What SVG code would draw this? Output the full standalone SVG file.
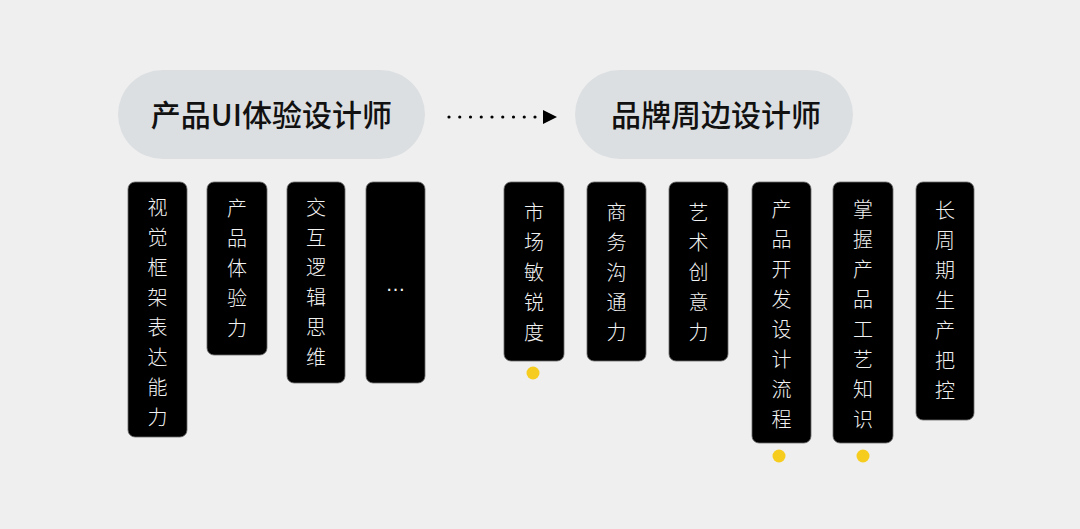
<svg xmlns="http://www.w3.org/2000/svg" width="1080" height="529" viewBox="0 0 1080 529">
<defs>
<style>
.pill{fill:#dcdfe1}
.title{font-family:"Noto Sans CJK SC","Noto Sans",sans-serif;font-size:30px;font-weight:500;fill:#111;text-anchor:middle}
.box{fill:#000;stroke:#6a6a6a;stroke-width:0.8}
.lbl{font-family:"Noto Sans CJK SC","Noto Sans",sans-serif;font-size:20px;font-weight:300;fill:#f2f2f2;text-anchor:middle}
.ell{font-family:"Liberation Sans",sans-serif;font-size:20px;fill:#f2f2f2;text-anchor:middle}
.dot{fill:#f6cd1e}
</style>
<marker id="ah" markerUnits="userSpaceOnUse" markerWidth="14" markerHeight="14" refX="0" refY="7" orient="auto">
<path d="M0,0 L14,7 L0,14 z" fill="#000"/>
</marker>
</defs>
<rect width="1080" height="529" fill="#efefef"/>

<g id="role-ui">
<rect class="pill" x="118" y="70" width="307" height="89" rx="44.5"/>
<text class="title" x="271.5" y="126">产品UI体验设计师</text>
</g>
<g id="role-brand">
<rect class="pill" x="575" y="70" width="278" height="89" rx="44.5"/>
<text class="title" x="716" y="126">品牌周边设计师</text>
</g>

<g id="connectors">
<line x1="449" y1="117" x2="543" y2="117" stroke="#000" stroke-width="3.2" stroke-linecap="round" stroke-dasharray="0 10.75" marker-end="url(#ah)"/>
</g>

<g id="skill-1">
<rect class="box" x="128" y="182" width="59" height="255" rx="7"/>
<text class="lbl"><tspan x="157.5" y="214.5">视</tspan><tspan x="157.5" y="244.5">觉</tspan><tspan x="157.5" y="274.5">框</tspan><tspan x="157.5" y="304.5">架</tspan><tspan x="157.5" y="334.5">表</tspan><tspan x="157.5" y="364.5">达</tspan><tspan x="157.5" y="394.5">能</tspan><tspan x="157.5" y="424.5">力</tspan></text>
</g>
<g id="skill-2">
<rect class="box" x="207" y="182" width="60" height="173" rx="7"/>
<text class="lbl"><tspan x="237" y="215.5">产</tspan><tspan x="237" y="245.5">品</tspan><tspan x="237" y="275.5">体</tspan><tspan x="237" y="305.5">验</tspan><tspan x="237" y="335.5">力</tspan></text>
</g>
<g id="skill-3">
<rect class="box" x="287" y="182" width="58" height="201" rx="7"/>
<text class="lbl"><tspan x="316" y="214.5">交</tspan><tspan x="316" y="244.5">互</tspan><tspan x="316" y="274.5">逻</tspan><tspan x="316" y="304.5">辑</tspan><tspan x="316" y="334.5">思</tspan><tspan x="316" y="364.5">维</tspan></text>
</g>
<g id="skill-4">
<rect class="box" x="366" y="182" width="59" height="201" rx="7"/>
<text class="ell" x="395.5" y="291">…</text>
</g>

<g id="skill-5">
<rect class="box" x="504" y="182" width="60" height="179" rx="7"/>
<text class="lbl"><tspan x="534" y="219.5">市</tspan><tspan x="534" y="249.5">场</tspan><tspan x="534" y="279.5">敏</tspan><tspan x="534" y="309.5">锐</tspan><tspan x="534" y="339.5">度</tspan></text>
<circle class="dot" cx="533" cy="373" r="6.5"/>
</g>
<g id="skill-6">
<rect class="box" x="587" y="182" width="59" height="179" rx="7"/>
<text class="lbl"><tspan x="616.5" y="219.5">商</tspan><tspan x="616.5" y="249.5">务</tspan><tspan x="616.5" y="279.5">沟</tspan><tspan x="616.5" y="309.5">通</tspan><tspan x="616.5" y="339.5">力</tspan></text>
</g>
<g id="skill-7">
<rect class="box" x="669" y="182" width="59" height="179" rx="7"/>
<text class="lbl"><tspan x="698.5" y="219.5">艺</tspan><tspan x="698.5" y="249.5">术</tspan><tspan x="698.5" y="279.5">创</tspan><tspan x="698.5" y="309.5">意</tspan><tspan x="698.5" y="339.5">力</tspan></text>
</g>
<g id="skill-8">
<rect class="box" x="752" y="182" width="59" height="261" rx="7"/>
<text class="lbl"><tspan x="781.5" y="216.5">产</tspan><tspan x="781.5" y="246.5">品</tspan><tspan x="781.5" y="276.5">开</tspan><tspan x="781.5" y="306.5">发</tspan><tspan x="781.5" y="336.5">设</tspan><tspan x="781.5" y="366.5">计</tspan><tspan x="781.5" y="396.5">流</tspan><tspan x="781.5" y="426.5">程</tspan></text>
<circle class="dot" cx="779" cy="456" r="6.5"/>
</g>
<g id="skill-9">
<rect class="box" x="833" y="182" width="60" height="261" rx="7"/>
<text class="lbl"><tspan x="863" y="216.5">掌</tspan><tspan x="863" y="246.5">握</tspan><tspan x="863" y="276.5">产</tspan><tspan x="863" y="306.5">品</tspan><tspan x="863" y="336.5">工</tspan><tspan x="863" y="366.5">艺</tspan><tspan x="863" y="396.5">知</tspan><tspan x="863" y="426.5">识</tspan></text>
<circle class="dot" cx="863" cy="456" r="6.5"/>
</g>
<g id="skill-10">
<rect class="box" x="916" y="182" width="58" height="238" rx="7"/>
<text class="lbl"><tspan x="945" y="218">长</tspan><tspan x="945" y="248">周</tspan><tspan x="945" y="278">期</tspan><tspan x="945" y="308">生</tspan><tspan x="945" y="338">产</tspan><tspan x="945" y="368">把</tspan><tspan x="945" y="398">控</tspan></text>
</g>
</svg>
